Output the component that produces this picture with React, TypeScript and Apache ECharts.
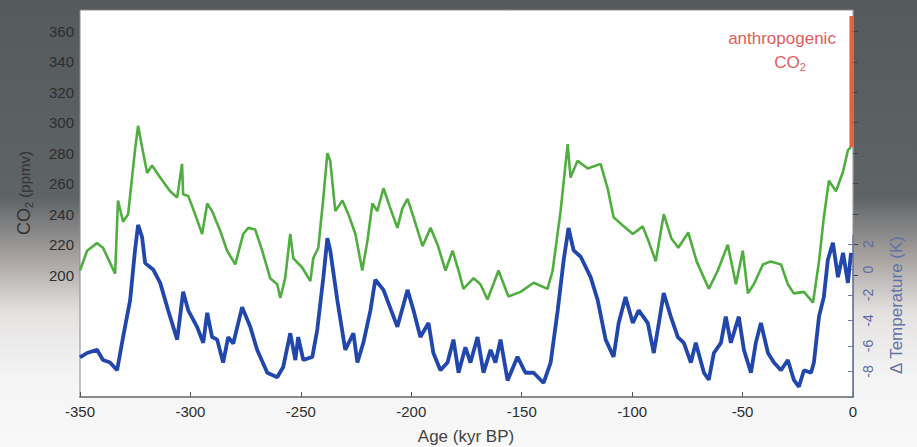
import React, { useEffect, useRef } from "react";
import * as echarts from "echarts";

const xTicks = [-350, -300, -250, -200, -150, -100, -50, 0];
const co2Ticks = [200, 220, 240, 260, 280, 300, 320, 340, 360];
const tempTickLabels = [-8, -6, -4, -2, 0, 2];
const tempTicks = [-10, -8, -6, -4, -2, 0, 2];

const co2Ages = [
  -350, -346.8, -342.3, -339.6, -334.1, -332.8, -330.5, -328.2, -325.1, -323.7, -321.9, -319.6, -317.4,
  -313.7, -309.2, -306.0, -303.8, -303.3, -301.0, -297.9, -294.7, -292.4, -290.2, -286.5, -283.4, -279.7,
  -276.1, -273.8, -270.7, -267.5, -263.9, -260.7, -259.3, -257.1, -254.8, -253.4, -249.4, -245.7, -244.4,
  -242.1, -239.8, -238.0, -236.7, -234.4, -231.2, -228.5, -225.3, -222.2, -219.9, -217.6, -215.4, -212.6,
  -209.5, -206.3, -204.0, -201.7, -199.0, -194.9, -191.3, -188.1, -184.5, -181.3, -178.6, -176.4, -171.8,
  -168.7, -165.5, -160.5, -156.0, -150.5, -144.6, -138.3, -136.0, -132.4, -129.2, -127.9, -124.7, -120.1,
  -114.3, -111.1, -108.4, -103.8, -99.7, -95.2, -92.5, -89.3, -85.7, -82.2, -79.1, -74.6, -70.8, -65.3,
  -61.2, -56.7, -53.0, -49.9, -47.6, -44.9, -40.8, -37.2, -32.6, -29.5, -26.8, -22.2, -18.1, -15.4, -13.2,
  -10.9, -7.7, -4.5, -2.3, -0.9,
];
const co2Values = [
  203, 216, 221, 218, 201, 249, 235, 240, 282, 298, 284, 267, 272,
  264, 255, 251, 273, 253, 252, 240, 227, 247, 242, 229, 216, 207,
  227, 231, 230, 216, 198, 194, 185, 198, 227, 211, 205, 196, 211,
  218, 251, 280, 275, 242, 249, 240, 227, 203, 222, 247, 242, 257,
  244, 231, 244, 250, 238, 219, 231, 220, 203, 216, 203, 191, 198,
  194, 184, 203, 186, 189, 195, 191, 203, 242, 286, 264, 275, 270,
  273, 257, 238, 232, 227, 232, 222, 209, 240, 224, 218, 228, 209, 191,
  203, 220, 194, 216, 188, 194, 207, 209, 207, 194, 188, 189, 182, 209, 238,
  262, 255, 268, 282, 284,
];

const tempAges = [
  -350.0, -346.8, -342.3, -339.6, -336.4, -333.2, -330.5, -327.3, -325.1, -323.7, -321.9, -320.5, -316.9,
  -313.7, -310.1, -306.0, -303.3, -301.0, -297.0, -294.2, -292.4, -290.2, -287.9, -285.2, -282.9, -280.6,
  -276.6, -272.9, -269.8, -265.2, -260.7, -258.0, -254.8, -252.5, -251.2, -248.9, -244.8, -242.6, -239.8,
  -238.0, -236.7, -233.5, -229.9, -226.2, -224.4, -221.7, -218.5, -216.3, -212.6, -206.3, -201.7, -199.0,
  -195.9, -192.2, -190.0, -186.8, -183.6, -180.9, -178.6, -175.5, -173.2, -170.0, -167.3, -164.1, -161.9,
  -159.6, -156.4, -151.9, -148.3, -144.6, -140.1, -136.9, -133.7, -131.0, -128.8, -126.5, -123.3, -118.8,
  -115.6, -112.0, -108.4, -106.1, -103.0, -99.7, -97.0, -92.9, -90.2, -87.9, -85.7, -82.5, -79.3, -76.6,
  -73.4, -71.2, -67.5, -65.3, -63.0, -59.8, -57.6, -55.3, -51.7, -49.4, -46.2, -44.0, -41.7, -38.5, -35.8,
  -32.6, -29.5, -26.8, -24.5, -22.2, -19.0, -17.7, -15.4, -13.2, -11.4, -9.1, -6.8, -4.5, -2.3, -0.9,
];
const tempValues = [
  -6.9, -6.55, -6.3, -7.1, -7.3, -7.9, -5.3, -2.4, 1.5, 3.5, 2.55, 0.5, 0.0,
  -1.05, -3.2, -5.5, -1.75, -3.2, -4.5, -5.75, -3.4, -5.3, -5.5, -7.3, -5.3, -5.8,
  -2.95, -4.5, -6.3, -8.1, -8.45, -7.65, -5.0, -7.1, -5.3, -7.1, -6.85, -4.75, -0.6,
  2.45, 1.5, -2.4, -6.3, -5.0, -7.3, -5.75, -3.2, -0.8, -1.6, -4.5, -1.6, -3.2,
  -5.3, -4.2, -6.55, -7.9, -7.3, -5.5, -8.1, -6.1, -7.3, -5.3, -8.1, -6.3, -7.3,
  -5.5, -8.7, -6.85, -8.1, -8.1, -8.9, -7.3, -3.2, 0.75, 3.25, 1.5, 1.0, -0.6,
  -2.4, -5.5, -6.85, -4.2, -2.15, -4.2, -3.2, -4.2, -6.55, -4.2, -1.85, -3.7, -5.3, -5.75,
  -7.3, -5.75, -8.1, -8.65, -6.55, -5.75, -3.7, -5.75, -3.7, -6.3, -8.1, -5.75, -4.2, -6.55, -7.3,
  -7.9, -7.1, -8.65, -9.2, -7.9, -8.1, -7.3, -3.7, -2.15, 0.75, 2.1, -0.6, 1.3, -1.05, 1.3,
];

const anthroAges = [-0.7, -0.7];
const anthroValues = [284, 370];

const tempAxisLineAges = [0, 0];
const tempAxisLineValues = [-10, 2.7];

const FONT = "'Liberation Sans', Arial, Helvetica, sans-serif";

function zip(a: number[], b: number[]) {
  return a.map((v, i) => [v, b[i]]);
}

export default function App() {
  const ref = useRef<HTMLDivElement>(null);
  useEffect(() => {
    if (!ref.current) return;
    const chart = echarts.init(ref.current, undefined, { renderer: "svg" });
    chart.setOption({
      animation: false,
      backgroundColor: "transparent",
      grid: {
        left: 80,
        right: 64,
        top: 10,
        bottom: 50,
        show: true,
        backgroundColor: "#ffffff",
        borderColor: "#8a8a8a",
        borderWidth: 1,
      },
      xAxis: {
        type: "value",
        min: -350,
        max: 0,
        interval: 50,
        axisLine: { show: true, onZero: false, lineStyle: { color: "#8a8a8a", width: 2 } },
        axisTick: { show: true, inside: true, length: 5, lineStyle: { color: "#555" }, customValues: xTicks },
        axisLabel: { color: "#2e2e2e", fontSize: 15, fontFamily: FONT, margin: 7, customValues: xTicks },
        splitLine: { show: false },
      },
      yAxis: [
        {
          type: "value",
          position: "left",
          min: 120,
          max: 374,
          interval: 20,
          axisLine: { show: true, lineStyle: { color: "#8a8a8a", width: 1 } },
          axisTick: { show: true, inside: true, length: 5, lineStyle: { color: "#444" }, customValues: co2Ticks },
          axisLabel: { color: "#2e2e2e", fontSize: 15, fontFamily: FONT, margin: 6, customValues: co2Ticks },
          splitLine: { show: false },
        },
        {
          type: "value",
          position: "right",
          min: -10,
          max: 20.35,
          interval: 2,
          axisLine: { show: false },
          axisTick: { show: true, inside: true, length: 5, lineStyle: { color: "#6c7aa6" }, customValues: tempTicks },
          axisLabel: {
            color: "#5f6d9c",
            fontSize: 14,
            fontFamily: FONT,
            rotate: 90,
            margin: 8,
            customValues: tempTickLabels,
          },
          splitLine: { show: false },
        },
      ],
      series: [
        {
          type: "line",
          name: "CO2",
          yAxisIndex: 0,
          data: zip(co2Ages, co2Values),
          symbol: "none",
          lineStyle: { color: "#4fae3f", width: 2.6 },
          silent: true,
        },
        {
          type: "line",
          name: "Temperature",
          yAxisIndex: 1,
          data: zip(tempAges, tempValues),
          symbol: "none",
          lineStyle: { color: "#2147ad", width: 3.8 },
          silent: true,
        },
        {
          type: "line",
          name: "Anthropogenic",
          yAxisIndex: 0,
          data: zip(anthroAges, anthroValues),
          symbol: "none",
          lineStyle: { color: "#e8603a", width: 4 },
          silent: true,
          clip: false,
        },
        {
          type: "line",
          name: "TempAxis",
          yAxisIndex: 1,
          data: zip(tempAxisLineAges, tempAxisLineValues),
          symbol: "none",
          lineStyle: { color: "#6c7aa6", width: 1.5 },
          silent: true,
          clip: false,
          z: 1,
        },
      ],
      graphic: [
        {
          type: "text",
          x: 782,
          y: 38,
          style: {
            text: "anthropogenic",
            fill: "#e25c5c",
            font: `17px ${FONT}`,
            textAlign: "center",
            textVerticalAlign: "middle",
          },
        },
        {
          type: "text",
          x: 790,
          y: 62,
          style: {
            text: "{a|CO}{b|2}",
            fill: "#e25c5c",
            textAlign: "center",
            textVerticalAlign: "middle",
            rich: {
              a: { fontSize: 17, fontFamily: FONT, fill: "#e25c5c", color: "#e25c5c" },
              b: { fontSize: 11, fontFamily: FONT, fill: "#e25c5c", color: "#e25c5c", padding: [10, 0, 0, 0] },
            },
          },
        },
        {
          type: "text",
          x: 24,
          y: 193,
          rotation: Math.PI / 2,
          style: {
            text: "{a|CO}{b|2}{c| (ppmv)}",
            fill: "#333",
            textAlign: "center",
            textVerticalAlign: "middle",
            rich: {
              a: { fontSize: 18, fontFamily: FONT, fill: "#333", color: "#333" },
              b: { fontSize: 11, fontFamily: FONT, fill: "#333", color: "#333", padding: [10, 0, 0, 0] },
              c: { fontSize: 15, fontFamily: FONT, fill: "#333", color: "#333" },
            },
          },
        },
        {
          type: "text",
          x: 896,
          y: 305,
          rotation: Math.PI / 2,
          style: {
            text: "Δ Temperature (K)",
            fill: "#6272a4",
            font: `17px ${FONT}`,
            textAlign: "center",
            textVerticalAlign: "middle",
          },
        },
        {
          type: "text",
          x: 466,
          y: 436,
          style: {
            text: "Age (kyr BP)",
            fill: "#444",
            font: `17px ${FONT}`,
            textAlign: "center",
            textVerticalAlign: "middle",
          },
        },
      ],
    });
    return () => chart.dispose();
  }, []);
  return (
    <div
      style={{
        position: "absolute",
        left: 0,
        top: 0,
        width: 917,
        height: 447,
        background:
          "linear-gradient(180deg, #555a5d 0%, #5e6366 44%, #a9a4a2 58%, #e4e2e1 70%, #f5f5f5 85%, #f8f8f8 100%)",
      }}
    >
      <div ref={ref} style={{ width: 917, height: 447 }} />
    </div>
  );
}
